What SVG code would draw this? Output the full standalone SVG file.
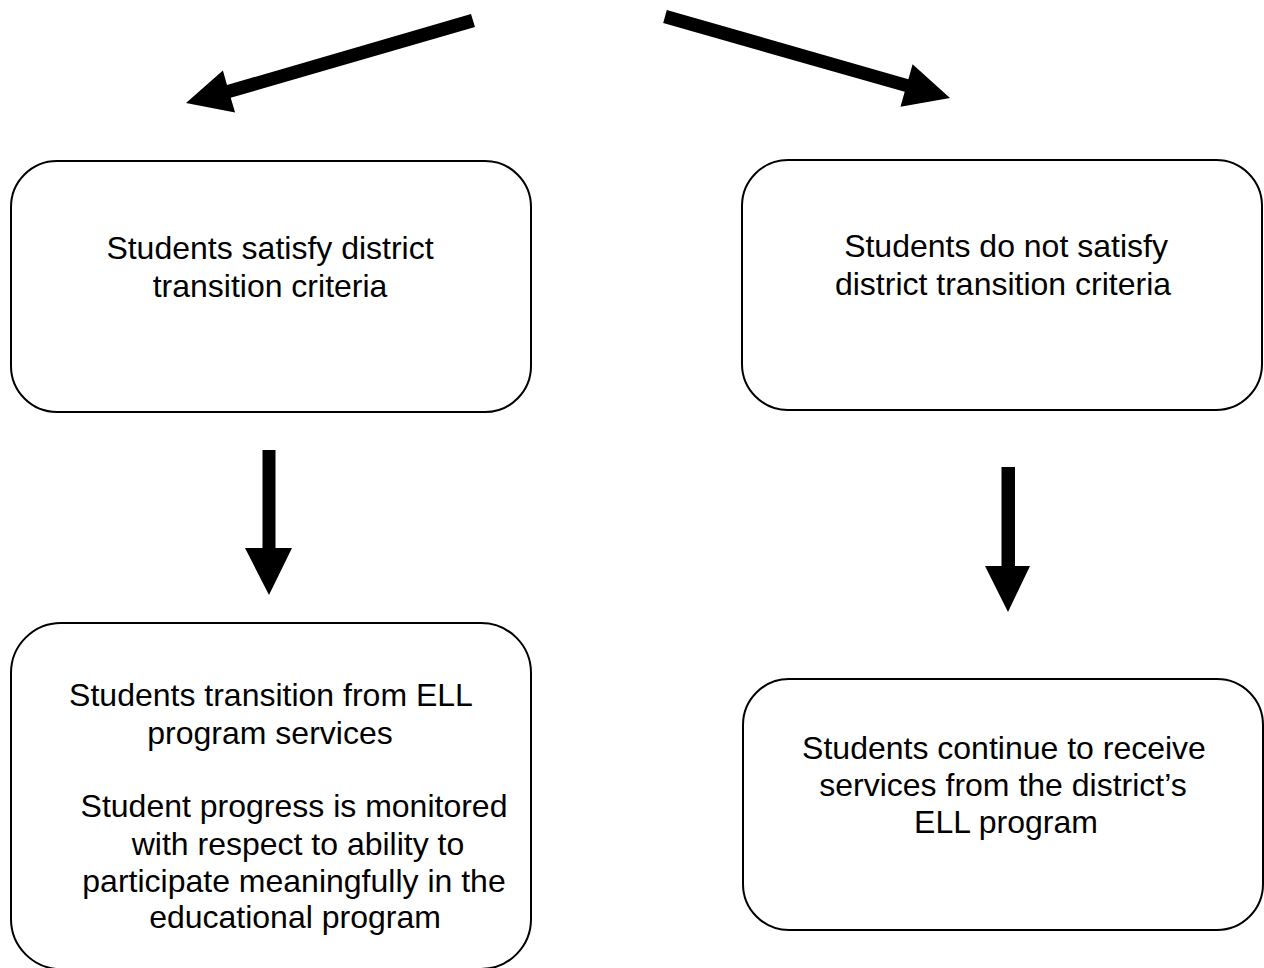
<svg xmlns="http://www.w3.org/2000/svg" width="1264" height="968" viewBox="0 0 1264 968">
<style>
.box{fill:#fff;stroke:#000;stroke-width:2}
.t{font-family:"Liberation Sans",Arial,sans-serif;font-size:32px;fill:#000;text-anchor:middle}
.arr{fill:#000}
</style>
<rect width="1264" height="968" fill="#fff"/>
<g id="connectors">
<polygon class="arr" points="471,14 475,27 230.7,97.8 235.1,112.6 186,103 222.9,70.4 227,85"/>
<polygon class="arr" points="666.8,10 908.4,79.2 912.6,64.3 950,98 900.5,106.7 904.7,91.8 663.2,23"/>
<polygon class="arr" points="262.5,450 275.5,450 275.5,548 292,548 269,595 245,548 262.5,548"/>
<polygon class="arr" points="1001.5,467 1015,467 1015,566 1030,566 1008,612 985,566 1001.5,566"/>
</g>
<g id="node-satisfy">
<rect class="box" x="11" y="161" width="520" height="251" rx="46"/>
<text class="t" x="270" y="259">Students satisfy district</text>
<text class="t" x="270" y="297">transition criteria</text>
</g>
<g id="node-not-satisfy">
<rect class="box" x="742" y="160" width="520" height="250" rx="46"/>
<text class="t" x="1006" y="257">Students do not satisfy</text>
<text class="t" x="1003" y="295">district transition criteria</text>
</g>
<g id="node-transition">
<rect class="box" x="11" y="623" width="520" height="346" rx="50"/>
<text class="t" x="271" y="706">Students transition from ELL</text>
<text class="t" x="270" y="744">program services</text>
<text class="t" x="294" y="817">Student progress is monitored</text>
<text class="t" x="298" y="855">with respect to ability to</text>
<text class="t" x="294" y="892">participate meaningfully in the</text>
<text class="t" x="295" y="928">educational program</text>
</g>
<g id="node-continue">
<rect class="box" x="743" y="679" width="520" height="251" rx="46"/>
<text class="t" x="1004" y="759">Students continue to receive</text>
<text class="t" x="1003" y="796">services from the district’s</text>
<text class="t" x="1006" y="833">ELL program</text>
</g>
</svg>
